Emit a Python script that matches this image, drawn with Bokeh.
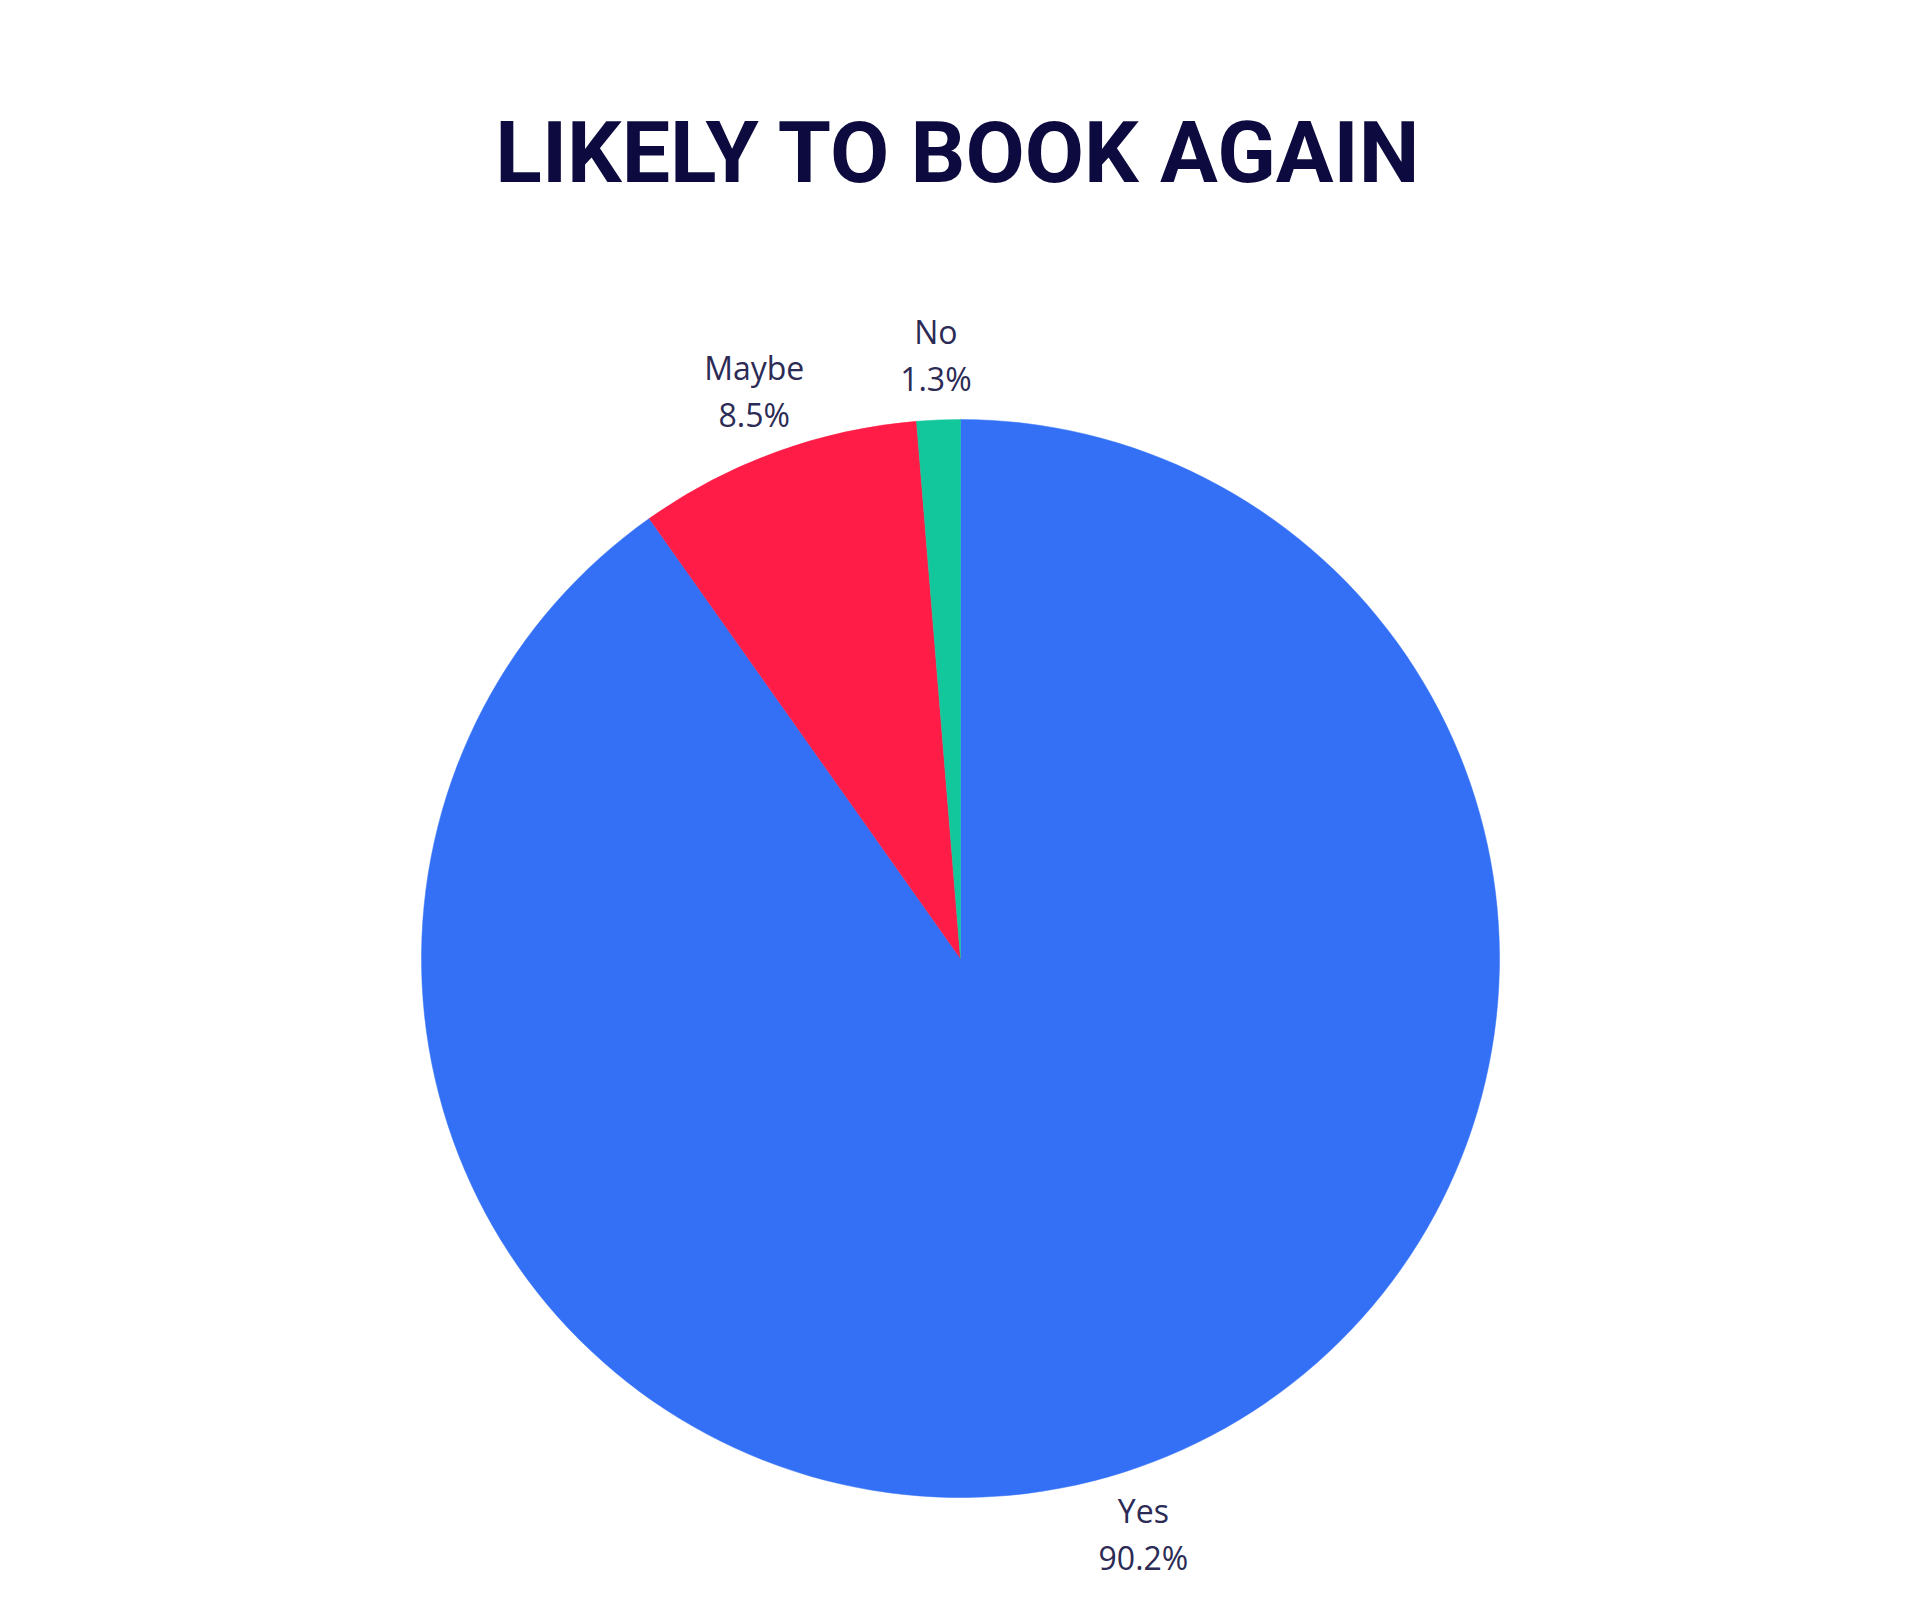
import math
from bokeh.plotting import figure
from bokeh.models import ColumnDataSource, Label
from bokeh.core.properties import value
from bokeh.embed import file_html
from bokeh.resources import INLINE

# ---- data ----
categories = ["Yes", "Maybe", "No"]
shares = [90.2, 8.5, 1.3]
colors = ["#3370F6", "#FF1D47", "#13C79D"]
title_text = "LIKELY TO BOOK AGAIN"

# ---- layout (pixel units) ----
W, H = 1904, 1584
cx, cy, r = 960, 626, 539
label_factor = 1.12

total = sum(shares)
starts, ends, lx, ly, labels = [], [], [], [], []
cum = 0.0
for cat, s in zip(categories, shares):
    a0 = math.pi / 2 - 2 * math.pi * cum / total
    a1 = math.pi / 2 - 2 * math.pi * (cum + s) / total
    mid = (a0 + a1) / 2
    starts.append(a0)
    ends.append(a1)
    lx.append(cx + label_factor * r * math.cos(mid))
    ly.append(cy + label_factor * r * math.sin(mid))
    labels.append(f"{cat}\n{s}%")
    cum += s

src = ColumnDataSource(dict(
    x=[cx] * len(categories), y=[cy] * len(categories),
    start=starts, end=ends, color=colors,
    lx=lx, ly=ly, label=labels,
))

p = figure(width=W, height=H, x_range=(0, W), y_range=(0, H),
           output_backend="svg", toolbar_location=None,
           min_border=0, outline_line_color=None)
p.axis.visible = False
p.grid.visible = False
p.background_fill_color = "white"
p.border_fill_color = "white"

p.wedge(x="x", y="y", radius=r, start_angle="start", end_angle="end",
        direction="clock", fill_color="color", line_color="color",
        line_width=0.5, source=src)

p.text(x="lx", y="ly", text="label", source=src,
       text_align="center", text_baseline="middle",
       text_font=value("Open Sans"), text_font_size="32px",
       text_color="#2c2b55", text_line_height=1.1)

p.add_layout(Label(x=958, y=1432, text=title_text,
                   text_align="center", text_baseline="middle",
                   text_font="Roboto", text_font_style="bold",
                   text_font_size="86px", text_color="#0c0a3e"))

open("out.html", "w").write(file_html(p, INLINE))
